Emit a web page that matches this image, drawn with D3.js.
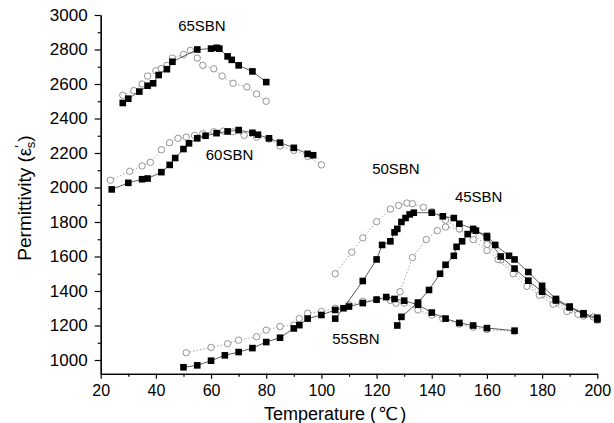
<!DOCTYPE html>
<html><head><meta charset="utf-8">
<script src="https://cdn.jsdelivr.net/npm/d3@7"></script>
<style>
body{margin:0;background:#fff;}
svg{display:block;font-family:"Liberation Sans",Arial,sans-serif;}
</style></head>
<body><svg id="c" width="614" height="423"></svg>
<script>
// ---- data ----
const xTicks = [20,40,60,80,100,120,140,160,180,200];
const yTicks = [1000,1200,1400,1600,1800,2000,2200,2400,2600,2800,3000];

const s65SqT = [28,30,34,37,39,41,44,46,55,60,62,63,66,67.5,70,75,80];
const s65SqP = [2490,2515,2556,2590,2604,2652,2686,2729,2800,2805,2810,2805,2760,2740,2708,2673,2611];
const s65CiT = [28,32,35,37,40,42,44,46,50,52.5,55,57,61,64,68,73,76.5,80];
const s65CiP = [2535,2562,2600,2646,2677,2690,2708,2750,2771,2795,2750,2708,2688,2646,2604,2583,2542,2500];

const s60SqT = [24,30,35,37,42,45,47,50,52,55,58,62,66,70,75,77,81,85,90,95,97];
const s60SqP = [1989,2027,2048,2052,2089,2131,2171,2223,2256,2285,2300,2315,2325,2333,2317,2306,2285,2260,2230,2195,2187];
const s60CiT = [23.5,30.5,35,38,42,45,48,51,54,57,61,64.5,68,72,76.5,81,85,90,95,100];
const s60CiP = [2042,2094,2125,2146,2219,2260,2285,2292,2302,2312,2323,2327,2323,2302,2292,2281,2240,2215,2180,2131];

const s55SqT = [50,55,60,65,70,75,80,85,90,92,95,100,105,110,115,120,123.5,126.5,130,135,140,145,150,155,160,170];
const s55SqP = [958,969,996,1027,1046,1069,1104,1129,1183,1202,1240,1261,1290,1310,1330,1350,1365,1354,1344,1320,1275,1240,1215,1200,1185,1170];
const s55CiT = [51,60,66,70,76.5,80,85,90,92,95,100,105,110,115,120,125,130,135,140,144,150,155,160,170];
const s55CiP = [1042,1073,1094,1115,1135,1173,1194,1202,1240,1271,1281,1300,1320,1340,1350,1345,1330,1290,1260,1240,1208,1190,1177,1165];

const s50SqT = [105,108,115,120,122,125,126.5,127.5,129,130.5,132,133.5,140,144,148,150,155,160,165,170,175,180,185,190,195,200];
const s50SqP = [1240,1300,1458,1583,1667,1688,1740,1760,1800,1823,1844,1854,1854,1833,1823,1790,1760,1710,1600,1530,1460,1396,1345,1305,1265,1235];
const s50CiT = [105,111,115,120,125,128,131,133,137,140,145,150,155,160,165,170,175,180,185,190,195,200];
const s50CiP = [1500,1625,1708,1802,1875,1896,1910,1906,1885,1860,1810,1760,1720,1670,1580,1510,1440,1380,1330,1290,1255,1230];

const s45SqT = [127.5,129,135,139,143,145,148,149,151,153,156,160,163,168,170,175,180,185,190,195,200];
const s45SqP = [1200,1250,1333,1406,1500,1552,1604,1656,1688,1730,1750,1719,1667,1604,1583,1510,1430,1354,1310,1271,1245];
const s45CiT = [127,128.5,133,138,142,145,150,155,160,164,169.5,174.5,179,184,189,193,198.5];
const s45CiP = [1330,1396,1594,1698,1750,1771,1760,1698,1635,1583,1500,1427,1375,1323,1281,1265,1250];

const seriesLabels = ["65SBN","60SBN","50SBN","45SBN","55SBN"];
const labelT = [56.7,66.7,127,157,112.5];
const labelP = [2910,2160,2080,1915,1090];

// ---- chart ----
const svg = d3.select("#c");
const x = d3.scaleLinear().domain([20,200]).range([100.7,597.3]);
const y = d3.scaleLinear().domain([920,3000]).range([373.8,15]);

const zip = (a,b)=>a.map((v,i)=>[v,b[i]]);
const line = d3.line().x(d=>x(d[0])).y(d=>y(d[1]));

const circleSets = [[s65CiT,s65CiP],[s60CiT,s60CiP],[s55CiT,s55CiP],[s50CiT,s50CiP],[s45CiT,s45CiP]];
const squareSets = [[s65SqT,s65SqP],[s60SqT,s60SqP],[s55SqT,s55SqP],[s50SqT,s50SqP],[s45SqT,s45SqP]];

const g = svg.append("g");
circleSets.forEach(([t,p])=>{
  const d = zip(t,p);
  g.append("path").attr("d",line(d)).attr("fill","none").attr("stroke","#999").attr("stroke-width",0.9).attr("stroke-dasharray","1.5,2");
  g.selectAll(null).data(d).enter().append("circle")
    .attr("cx",v=>x(v[0])).attr("cy",v=>y(v[1])).attr("r",3.2)
    .attr("fill","#fff").attr("stroke","#888").attr("stroke-width",0.9);
});
squareSets.forEach(([t,p])=>{
  const d = zip(t,p);
  g.append("path").attr("d",line(d)).attr("fill","none").attr("stroke","#333").attr("stroke-width",0.8);
  g.selectAll(null).data(d).enter().append("rect")
    .attr("x",v=>x(v[0])-3.3).attr("y",v=>y(v[1])-3.3).attr("width",6.6).attr("height",6.6)
    .attr("fill","#000");
});

// axes
const yAxisMinor = d3.axisLeft(y).tickValues(d3.range(1100,3000,200)).tickSize(3).tickFormat("").tickSizeOuter(0);
const yAxis = d3.axisLeft(y).tickValues(yTicks).tickSize(6).tickSizeOuter(0).tickPadding(7).tickFormat(d3.format("d"));
const xAxisMinor = d3.axisBottom(x).tickValues(d3.range(30,200,20)).tickSize(3).tickFormat("").tickSizeOuter(0);
const xAxis = d3.axisBottom(x).tickValues(xTicks).tickSize(5).tickSizeOuter(0).tickPadding(6).tickFormat(d3.format("d"));

function styleAxis(sel, fs){
  sel.selectAll("path,line").attr("stroke","#000").attr("stroke-width",1.2);
  sel.selectAll("text").attr("fill","#000").attr("font-size",fs).attr("font-family","Liberation Sans, Arial, sans-serif");
}
const ya = svg.append("g").attr("transform","translate(100.7,0)");
ya.call(yAxisMinor); styleAxis(ya,17);
const ya2 = svg.append("g").attr("transform","translate(100.7,0)");
ya2.call(yAxis); styleAxis(ya2,17);
const xa = svg.append("g").attr("transform","translate(0,373.8)");
xa.call(xAxisMinor); styleAxis(xa,16);
const xa2 = svg.append("g").attr("transform","translate(0,373.8)");
xa2.call(xAxis); styleAxis(xa2,16);

// series labels
seriesLabels.forEach((s,i)=>{
  svg.append("text").attr("x",x(labelT[i])).attr("y",y(labelP[i])).attr("text-anchor","middle")
    .attr("font-size",15).attr("fill","#000").text(s);
});

// axis titles
const xt = svg.append("text").attr("x",264).attr("y",420).attr("text-anchor","start").attr("font-size",18).attr("fill","#000");
xt.append("tspan").text("Temperature (");
xt.append("tspan").attr("font-family","DejaVu Sans").attr("dx",2).text("℃");
xt.append("tspan").attr("dx",2).text(")");
const yt = svg.append("text").attr("transform","translate(31,198) rotate(-90)").attr("text-anchor","middle")
  .attr("font-size",19).attr("fill","#000");
yt.append("tspan").text("Permittivity (ε");
yt.append("tspan").attr("dy",-7).attr("font-size",13).text("′");
yt.append("tspan").attr("dy",11).attr("dx",-3).attr("font-size",13).text("s");
yt.append("tspan").attr("dy",-4).text(")");
</script></body></html>
